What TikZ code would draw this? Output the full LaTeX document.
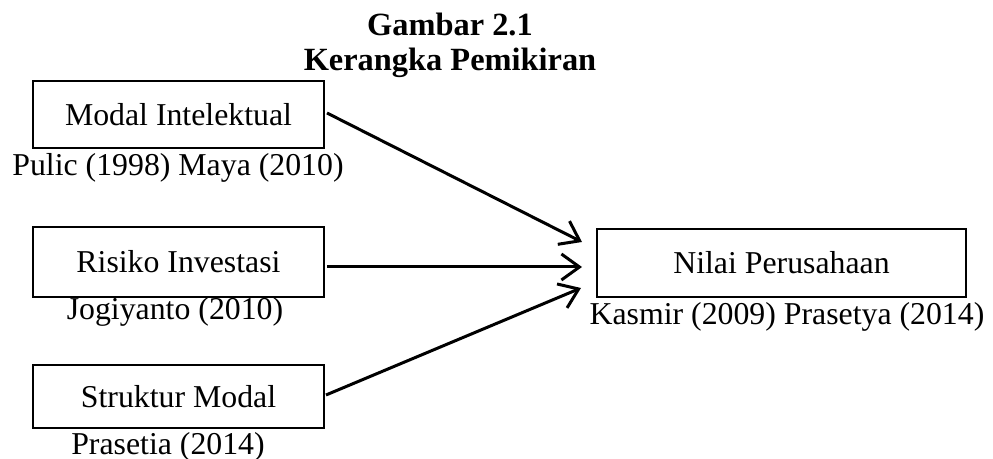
\documentclass[tikz,border=0pt]{standalone}
\usepackage{fontspec}
\setmainfont{Liberation Serif}
\usetikzlibrary{arrows.meta}

\begin{document}
\begin{tikzpicture}
  [x=0.5pt,y=-0.5pt,
   every node/.style={font=\fontsize{15.9}{17.5}\selectfont,inner sep=0pt},
   varbox/.style={draw,line width=1pt,minimum width=145.5pt},
   arr/.style={draw,-{Straight Barb[length=9pt,width=13pt,line width=1.5pt]},line width=1.5pt}]
  \useasboundingbox (0,0) rectangle (993,459);
  \node (title) [align=center,font=\fontsize{16.2}{17.5}\bfseries] at (450,45) {Gambar 2.1\\Kerangka Pemikiran};
  \node (n1) [varbox,minimum height=33.5pt] at (178.5,114.5) {Modal Intelektual};
  \node (n2) [varbox,minimum height=35pt] at (178.5,262) {Risiko Investasi};
  \node (n3) [varbox,minimum height=31.5pt] at (178.5,396.5) {Struktur Modal};
  \node (n4) [varbox,minimum width=184.5pt,minimum height=34pt] at (781.5,263) {Nilai Perusahaan};
  \node (l1) at (178,168) {Pulic (1998) Maya (2010)};
  \node (l2) at (175,312) {Jogiyanto (2010)};
  \node (l3) at (168,447) {Prasetia (2014)};
  \node (l4) at (787,317) {Kasmir (2009) Prasetya (2014)};
 \path
  ([xshift=1pt,yshift=0.75pt]n1.east) edge [arr] ([xshift=-7pt,yshift=10.5pt]n4.west)
  ([xshift=1pt,yshift=-2.5pt]n2.east) edge [arr] ([xshift=-7pt,yshift=-2pt]n4.west)
  ([xshift=0.5pt,yshift=0.75pt]n3.east) edge [arr] ([xshift=-7.5pt,yshift=-12.5pt]n4.west)
;
\end{tikzpicture}
\end{document}
